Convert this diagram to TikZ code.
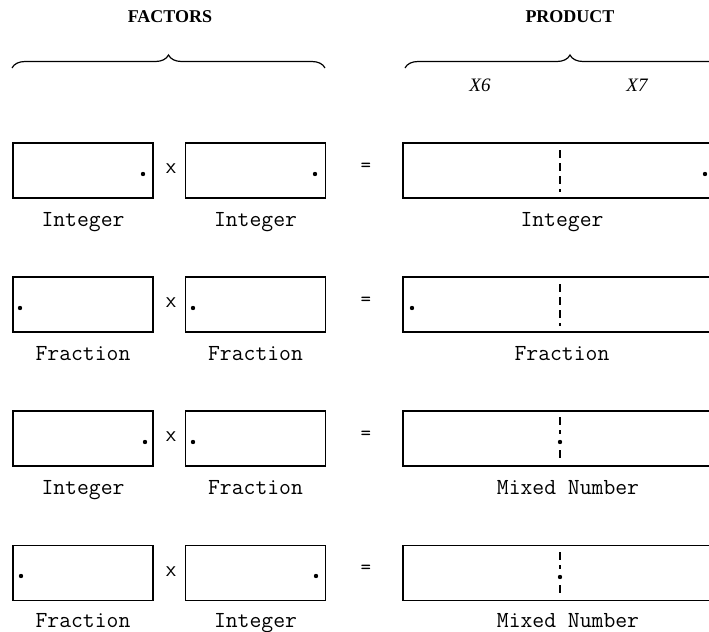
\documentclass[tikz,border=0pt]{standalone}
\usepackage{fontspec}
\newfontfamily\headfont{Liberation Serif}
\usetikzlibrary{decorations.pathreplacing}

\begin{document}
\begin{tikzpicture}[x=0.5pt,y=-0.5pt,
  box/.style={draw, line width=0.75pt, minimum width=70pt, minimum height=27.5pt, inner sep=0pt},
  prod/.style={box, minimum width=170pt},
  lbl/.style={anchor=base, inner sep=0pt, font=\fontsize{11.5}{13}\selectfont\ttfamily},
  head/.style={font=\headfont\bfseries\fontsize{9}{11}\selectfont},
  col/.style={font=\headfont\itshape\fontsize{9.5}{11}\selectfont},
  op/.style={font=\fontsize{11}{13}\selectfont\sffamily, inner sep=0pt},
  eq/.style={font=\fontsize{10}{12}\selectfont\ttfamily, inner sep=0pt},
  div/.style={line width=0.75pt, dash pattern=on 4pt off 2.5pt},
  bracket/.style={decorate, decoration={brace, amplitude=6.5pt}, line width=0.6pt}]
\clip (0,0) rectangle (709,632);
% headings
\node[head] (factors) at (170,17) {FACTORS};
\node[head] (product) at (570,17) {PRODUCT};
\draw[bracket] (12,68) -- (325,68);
\draw[bracket] (405,68) -- (735,68);
\node[col] (x6) at (480,85) {X6};
\node[col] (x7) at (637,85) {X7};
% integer x integer
\node[box] (f1a) at (83,170.5) {};
\node[box] (f1b) at (255.5,170.5) {};
\node[prod] (p1) at (573,170.5) {};
\node[op] (t1) at (171,169) {x};
\node[eq] (e1) at (366,167) {=};
\fill (143,174) circle[radius=1.1pt];
\fill (315,174) circle[radius=1.1pt];
\fill (705,174) circle[radius=1.1pt];
\draw[div] (560,150) -- (560,192);
\node[lbl] (l1a) at (83,226) {Integer};
\node[lbl] (l1b) at (255.5,226) {Integer};
\node[lbl] (l1p) at (562,226) {Integer};
% fraction x fraction
\node[box] (f2a) at (83,304.5) {};
\node[box] (f2b) at (255.5,304.5) {};
\node[prod] (p2) at (573,304.5) {};
\node[op] (t2) at (171,303) {x};
\node[eq] (e2) at (366,301) {=};
\fill (20,308) circle[radius=1.1pt];
\fill (193,308) circle[radius=1.1pt];
\fill (412,308) circle[radius=1.1pt];
\draw[div] (560,284) -- (560,326);
\node[lbl] (l2a) at (83,360) {Fraction};
\node[lbl] (l2b) at (255.5,360) {Fraction};
\node[lbl] (l2p) at (562,360) {Fraction};
% integer x fraction
\node[box] (f3a) at (83,438.5) {};
\node[box] (f3b) at (255.5,438.5) {};
\node[prod] (p3) at (573,438.5) {};
\node[op] (t3) at (171,437) {x};
\node[eq] (e3) at (366,435) {=};
\fill (145,442) circle[radius=1.1pt];
\fill (193,442) circle[radius=1.1pt];
\fill (560,442) circle[radius=1.1pt];
\draw[div] (560,417) -- (560,434);
\draw[div] (560,450) -- (560,461);
\node[lbl] (l3a) at (83,494) {Integer};
\node[lbl] (l3b) at (255.5,494) {Fraction};
\node[lbl] (l3p) at (568,494) {Mixed Number};
% fraction x integer
\node[box] (f4a) at (83,573) {};
\node[box] (f4b) at (255.5,573) {};
\node[prod] (p4) at (573,573) {};
\node[op] (t4) at (171,571.5) {x};
\node[eq] (e4) at (366,569.5) {=};
\fill (21,576) circle[radius=1.1pt];
\fill (316,576) circle[radius=1.1pt];
\fill (560,577) circle[radius=1.1pt];
\draw[div] (560,552) -- (560,569);
\draw[div] (560,585) -- (560,596);
\node[lbl] (l4a) at (83,627) {Fraction};
\node[lbl] (l4b) at (255.5,627) {Integer};
\node[lbl] (l4p) at (568,627) {Mixed Number};
\end{tikzpicture}
\end{document}
